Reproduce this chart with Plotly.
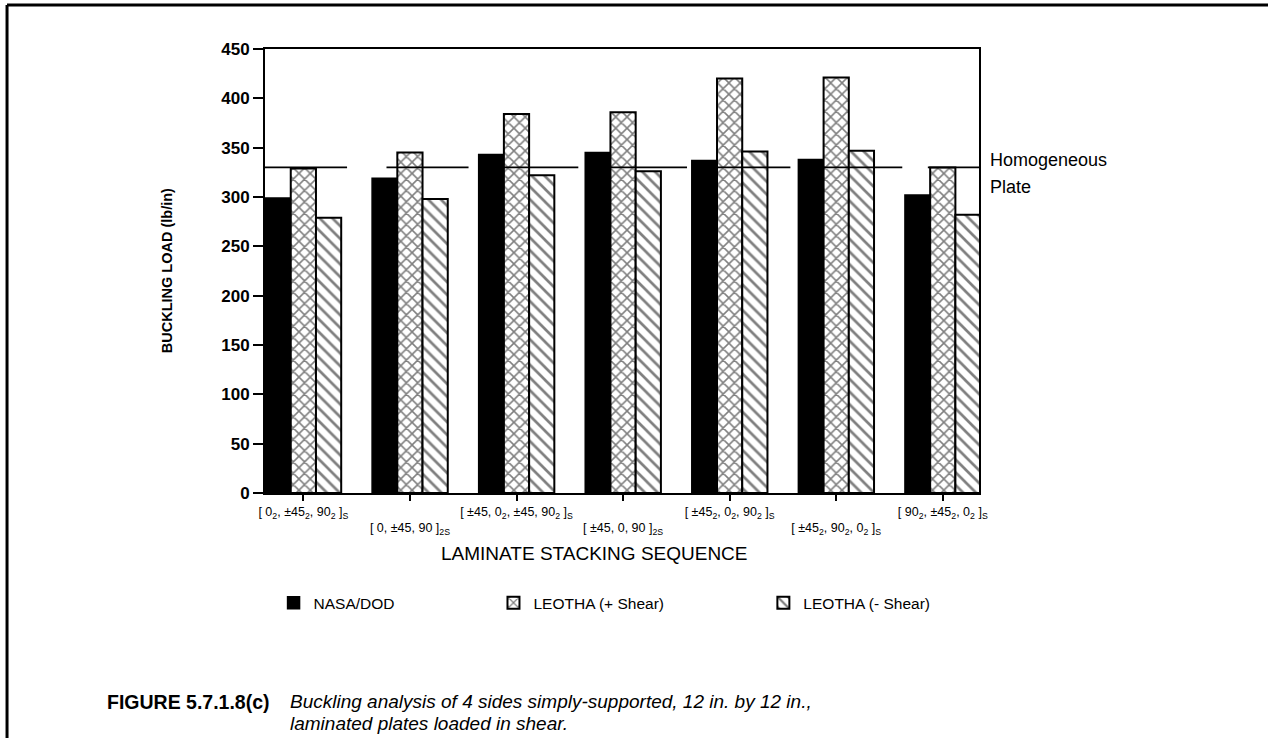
import plotly.graph_objects as go

# ---------------- data ----------------
categories = [
    "[ 0<sub>2</sub>, ±45<sub>2</sub>, 90<sub>2</sub> ]<sub>S</sub>",
    "[ 0, ±45, 90 ]<sub>2S</sub>",
    "[ ±45, 0<sub>2</sub>, ±45, 90<sub>2</sub> ]<sub>S</sub>",
    "[ ±45, 0, 90 ]<sub>2S</sub>",
    "[ ±45<sub>2</sub>, 0<sub>2</sub>, 90<sub>2</sub> ]<sub>S</sub>",
    "[ ±45<sub>2</sub>, 90<sub>2</sub>, 0<sub>2</sub> ]<sub>S</sub>",
    "[ 90<sub>2</sub>, ±45<sub>2</sub>, 0<sub>2</sub> ]<sub>S</sub>",
]
nasa_dod = [299, 319, 343, 345, 337, 338, 302]
leotha_plus = [329, 345, 384, 386, 420, 421, 330]
leotha_minus = [279, 298, 322, 326, 346, 347, 282]

homogeneous_plate = 330
# start / end of each drawn segment of the homogeneous-plate line (category units)
plate_seg_start = [-0.36, 0.78, 1.79, 2.79, 3.79, 4.79, 5.86]
plate_seg_end = [0.41, 1.55, 2.58, 3.60, 4.57, 5.62, 6.67]

y_ticks = [0, 50, 100, 150, 200, 250, 300, 350, 400, 450]

# ---------------- figure ----------------
FONT = "Liberation Sans, Arial, sans-serif"
x_idx = list(range(len(categories)))

fig = go.Figure()
fig.add_trace(go.Bar(
    x=x_idx, y=nasa_dod, name="NASA/DOD",
    marker=dict(color="black", line=dict(color="black", width=1.5)),
    legend="legend",
))
fig.add_trace(go.Bar(
    x=x_idx, y=leotha_plus, name="LEOTHA (+ Shear)",
    marker=dict(color="white", line=dict(color="black", width=2),
                pattern=dict(shape="x", fgcolor="black", bgcolor="white",
                             size=8, solidity=0.35)),
    legend="legend2",
))
fig.add_trace(go.Bar(
    x=x_idx, y=leotha_minus, name="LEOTHA (- Shear)",
    marker=dict(color="white", line=dict(color="black", width=2),
                pattern=dict(shape="\\", fgcolor="black", bgcolor="white",
                             size=9, solidity=0.3)),
    legend="legend3",
))

# homogeneous plate line (segmented)
lx, ly = [], []
for s, e in zip(plate_seg_start, plate_seg_end):
    lx += [s, e, None]
    ly += [homogeneous_plate, homogeneous_plate, None]
fig.add_trace(go.Scatter(
    x=lx, y=ly, mode="lines", line=dict(color="black", width=1.6),
    showlegend=False, cliponaxis=False, hoverinfo="skip",
))

ticktext = [c if i % 2 == 0 else "<br>" + c for i, c in enumerate(categories)]

LEG_FONT = dict(family=FONT, size=15.5, color="black")
fig.update_layout(
    width=1268, height=738,
    margin=dict(l=265, r=289, t=49, b=245),
    paper_bgcolor="white", plot_bgcolor="white",
    font=dict(family=FONT, color="black"),
    barmode="group", bargap=0.29, bargroupgap=0.0,
    xaxis=dict(
        range=[-0.36, 6.34], tickmode="array", tickvals=x_idx, ticktext=ticktext,
        showgrid=False, zeroline=False, showline=True, linecolor="black",
        linewidth=2, mirror=True, ticks="outside", ticklen=6, tickwidth=1.5,
        tickcolor="black", tickangle=0,
        tickfont=dict(family=FONT, size=12.5, color="black"),
    ),
    yaxis=dict(
        range=[0, 450], tickmode="array", tickvals=y_ticks,
        showgrid=False, zeroline=False, showline=True, linecolor="black",
        linewidth=2, mirror=True, ticks="outside", ticklen=10, tickwidth=2,
        tickcolor="black",
        tickfont=dict(family=FONT, size=17, color="black", weight="bold"),
    ),
    legend=dict(orientation="h", x=0.012, y=-0.248, xanchor="left", yanchor="middle",
                font=LEG_FONT, bgcolor="rgba(0,0,0,0)"),
    legend2=dict(orientation="h", x=0.320, y=-0.248, xanchor="left", yanchor="middle",
                 font=LEG_FONT, bgcolor="rgba(0,0,0,0)"),
    legend3=dict(orientation="h", x=0.698, y=-0.248, xanchor="left", yanchor="middle",
                 font=LEG_FONT, bgcolor="rgba(0,0,0,0)"),
    showlegend=True,
)

annotations = [
    dict(text="BUCKLING LOAD (lb/in)", x=-0.151, y=0.5, xref="paper", yref="paper",
         textangle=-90, showarrow=False,
         font=dict(family=FONT, size=14.5, color="black", weight="bold")),
    dict(text="LAMINATE STACKING SEQUENCE", x=0.461, y=-0.164, xref="paper", yref="paper",
         showarrow=False, font=dict(family=FONT, size=19, color="black")),
    dict(text="Homogeneous", x=1.013, y=0.777, xref="paper", yref="paper",
         xanchor="left", showarrow=False, font=dict(family=FONT, size=18, color="black")),
    dict(text="Plate", x=1.013, y=0.716, xref="paper", yref="paper",
         xanchor="left", showarrow=False, font=dict(family=FONT, size=18, color="black")),
    dict(text="<b>FIGURE 5.7.1.8(c)</b>", x=-0.224, y=-0.4707, xref="paper", yref="paper",
         xanchor="left", yanchor="middle", showarrow=False,
         font=dict(family=FONT, size=19.5, color="black")),
    dict(text="<i>Buckling analysis of 4 sides simply-supported, 12 in. by 12 in.,</i>",
         x=0.0325, y=-0.4707, xref="paper", yref="paper",
         xanchor="left", yanchor="middle", showarrow=False,
         font=dict(family=FONT, size=19, color="black")),
    dict(text="<i>laminated plates loaded in shear.</i>",
         x=0.0325, y=-0.520, xref="paper", yref="paper",
         xanchor="left", yanchor="middle", showarrow=False,
         font=dict(family=FONT, size=19, color="black")),
]
fig.update_layout(annotations=annotations)

# outer frame: top and left border lines
fig.add_shape(type="line", xref="paper", yref="paper", x0=-0.3613, x1=1.42,
              y0=1.099, y1=1.099, line=dict(color="black", width=3))
fig.add_shape(type="line", xref="paper", yref="paper", x0=-0.3613, x1=-0.3613,
              y0=-0.56, y1=1.099, line=dict(color="black", width=3))

fig.write_html(
    "out.html",
    config={"displayModeBar": False},
    post_script="document.body.style.margin='0';document.body.style.overflow='hidden';",
)
